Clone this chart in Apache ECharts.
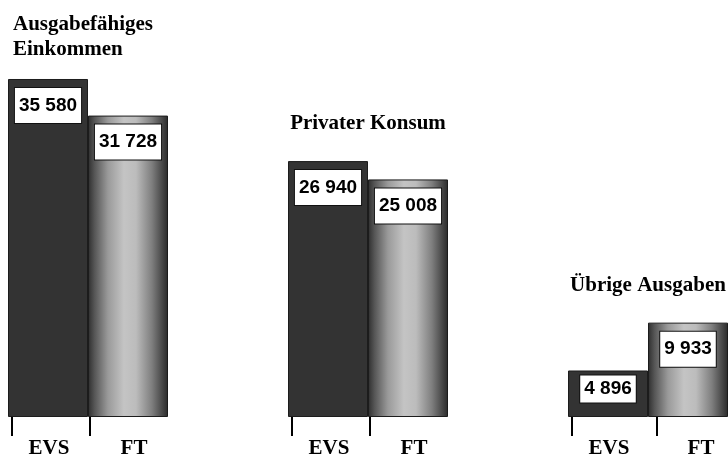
<!DOCTYPE html>
<html>
<head>
<meta charset="utf-8">
<script src="https://cdn.jsdelivr.net/npm/echarts@6/dist/echarts.min.js"></script>
<style>
  html, body { margin: 0; padding: 0; background: #fff; }
  #chart { width: 728px; height: 459px; }
</style>
</head>
<body>
<div id="chart"></div>
<script>
// data
var groups = ['Ausgabefähiges\nEinkommen', 'Privater Konsum', 'Übrige Ausgaben'];
var seriesNames = ['EVS', 'FT'];
var evsValues = [35580, 26940, 4896];
var ftValues = [31728, 25008, 9933];

// layout (px)
var GROUP_STEP = 280;
var FIRST_CENTER = 88;
var CHART_W = 728;

function fmt(v) {
  return String(v).replace(/\B(?=(\d{3})+(?!\d))/g, ' ');
}

// tick marks and EVS/FT labels under each bar, in group units
var tickValues = [];
var labelValues = [];
var labelNames = [];
for (var i = 0; i < groups.length; i++) {
  var extra = i === 2 ? 7 : 0;
  tickValues.push(i - 76 / GROUP_STEP, i + (2 + extra) / GROUP_STEP);
  labelValues.push(i - 39 / GROUP_STEP, i + (46 + extra) / GROUP_STEP);
  labelNames.push(seriesNames[0], seriesNames[1]);
}

var valueLabel = {
  show: true,
  position: 'insideTop',
  distance: 9,
  formatter: function (p) { return fmt(p.value); },
  fontFamily: 'Liberation Sans, Arial, sans-serif',
  fontWeight: 'bold',
  fontSize: 19,
  lineHeight: 21,
  color: '#000',
  backgroundColor: '#fff',
  borderColor: '#111',
  borderWidth: 1,
  padding: [7, 4, 7, 4]
};

var evsData = evsValues.map(function (v, i) {
  if (i === 2) {
    return { value: v, label: { distance: 5, padding: [3, 4, 3, 4] } };
  }
  return v;
});

var titleData = groups.map(function (g, i) {
  var item = { value: Math.max(evsValues[i], ftValues[i]), name: g };
  if (i === 0) {
    item.label = { align: 'left', offset: [-75, 0], distance: 17 };
  }
  return item;
});

var chart = echarts.init(document.getElementById('chart'));
chart.setOption({
  backgroundColor: '#fff',
  animation: false,
  grid: [
    { left: FIRST_CENTER, right: CHART_W - FIRST_CENTER - GROUP_STEP * (groups.length - 1), top: 37, bottom: 42 },
    { left: 0, right: 0, top: 37, bottom: 42 }
  ],
  xAxis: [
    {
      type: 'category',
      gridIndex: 0,
      data: groups,
      boundaryGap: false,
      axisLine: { show: false },
      axisTick: { show: false },
      axisLabel: { show: false }
    },
    {
      type: 'value',
      gridIndex: 1,
      min: -FIRST_CENTER / GROUP_STEP,
      max: (CHART_W - FIRST_CENTER) / GROUP_STEP,
      offset: 10,
      splitLine: { show: false },
      axisLine: { show: false },
      axisTick: {
        show: true,
        customValues: tickValues,
        length: 26,
        lineStyle: { color: '#000', width: 2 }
      },
      axisLabel: {
        show: true,
        customValues: labelValues,
        margin: 18,
        formatter: function (v) {
          var best = 0;
          for (var k = 1; k < labelValues.length; k++) {
            if (Math.abs(labelValues[k] - v) < Math.abs(labelValues[best] - v)) best = k;
          }
          return labelNames[best];
        },
        fontFamily: 'Liberation Serif, serif',
        fontWeight: 'bold',
        fontSize: 21,
        color: '#000'
      }
    }
  ],
  yAxis: [
    { type: 'value', gridIndex: 0, min: 0, max: 40000, show: false },
    { type: 'value', gridIndex: 1, min: 0, max: 1, show: false }
  ],
  series: [
    {
      name: seriesNames[0],
      type: 'bar',
      xAxisIndex: 0,
      yAxisIndex: 0,
      barWidth: 80,
      barGap: '0%',
      clip: false,
      data: evsData,
      itemStyle: { color: '#333333', borderColor: '#1c1c1c', borderWidth: 1 },
      label: valueLabel
    },
    {
      name: seriesNames[1],
      type: 'bar',
      xAxisIndex: 0,
      yAxisIndex: 0,
      barWidth: 80,
      barGap: '0%',
      clip: false,
      data: ftValues,
      itemStyle: {
        color: new echarts.graphic.LinearGradient(0, 0, 1, 0, [
          { offset: 0, color: '#2e2e2e' },
          { offset: 0.08, color: '#555555' },
          { offset: 0.25, color: '#9a9a9a' },
          { offset: 0.45, color: '#c4c4c4' },
          { offset: 0.6, color: '#bcbcbc' },
          { offset: 0.8, color: '#7e7e7e' },
          { offset: 0.93, color: '#474747' },
          { offset: 1, color: '#2a2a2a' }
        ]),
        borderColor: '#1c1c1c',
        borderWidth: 1
      },
      label: valueLabel
    },
    {
      name: 'titles',
      type: 'scatter',
      xAxisIndex: 0,
      yAxisIndex: 0,
      symbolSize: 0,
      silent: true,
      itemStyle: { opacity: 1 },
      data: titleData,
      label: {
        show: true,
        position: 'top',
        distance: 25,
        formatter: function (p) { return p.name; },
        fontFamily: 'Liberation Serif, serif',
        fontWeight: 'bold',
        fontSize: 21,
        lineHeight: 25,
        color: '#000'
      }
    }
  ]
});
</script>
</body>
</html>
